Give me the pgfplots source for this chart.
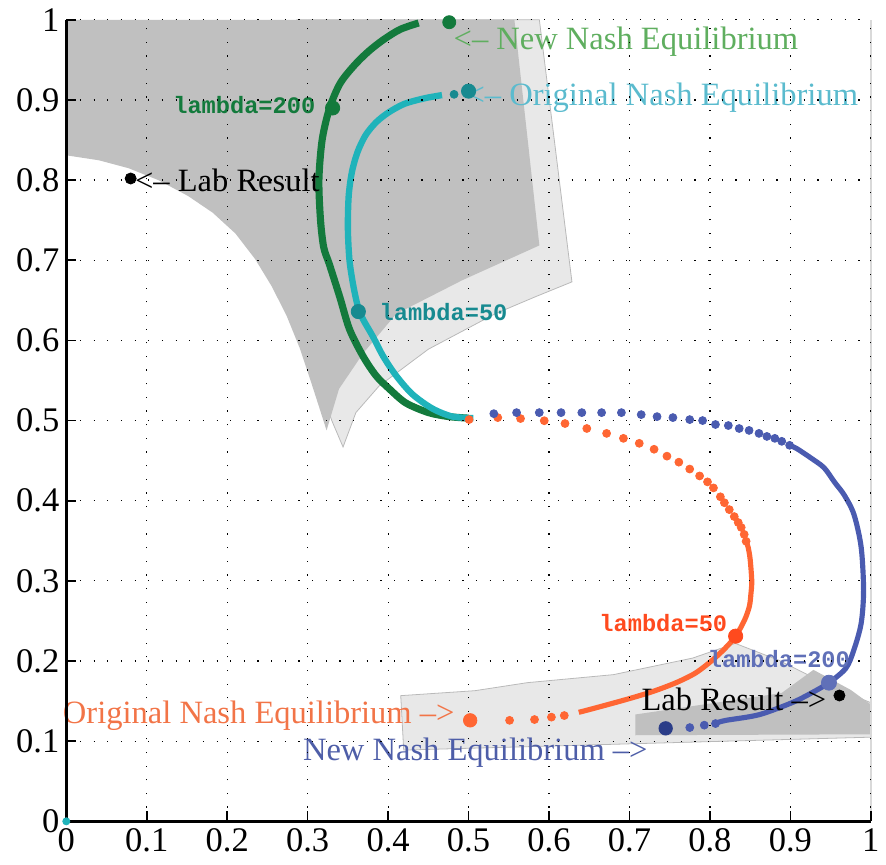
\documentclass[border=0pt]{standalone}
\usepackage{fontspec}
\setmainfont{Liberation Serif}
\setmonofont{Liberation Mono}
\usepackage{pgfplots}
\pgfplotsset{compat=1.18}
\definecolor{dgreen}{HTML}{137A3C}
\definecolor{tgreen}{HTML}{5FAE5F}
\definecolor{teal1}{HTML}{1FB3BA}
\definecolor{teal2}{HTML}{178A90}
\definecolor{tteal}{HTML}{5BBBCE}
\definecolor{orng}{HTML}{FF6633}
\definecolor{orngt}{HTML}{F27447}
\definecolor{redo}{HTML}{FF4A1E}
\definecolor{blu}{HTML}{4A5BB0}
\definecolor{bluD}{HTML}{2B3D88}
\definecolor{blut}{HTML}{4E5EA8}
\definecolor{bluL}{HTML}{6070B8}
\definecolor{darkreg}{HTML}{C0C0C0}
\definecolor{lightreg}{HTML}{E8E8E8}
\begin{document}
\begin{tikzpicture}
\begin{axis}[
  scale only axis, width=406.5bp, height=405bp,
  xmin=0, xmax=1, ymin=0, ymax=1,
  xtick={0,0.1,0.2,0.3,0.4,0.5,0.6,0.7,0.8,0.9,1},
  ytick={0,0.1,0.2,0.3,0.4,0.5,0.6,0.7,0.8,0.9,1},
  xticklabels={0,0.1,0.2,0.3,0.4,0.5,0.6,0.7,0.8,0.9,1},
  yticklabels={0,0.1,0.2,0.3,0.4,0.5,0.6,0.7,0.8,0.9,1},
  tick align=inside, tick pos=left, major tick length=5bp,
  tick style={black, line width=0.8bp},
  grid=major,
  major grid style={black, line width=0.6bp, dash pattern=on 0.6bp off 6.3bp},
  axis line style={draw=none},
  axis on top,
  clip=false,
  tick label style={font=\fontsize{17.5}{20}\selectfont},
]
% bounding box
\path (axis cs:-0.0824,-0.0543) rectangle (axis cs:1.0074,1.0247);
% regions top
\addplot[fill=lightreg, draw=gray!55, line width=0.4bp] coordinates {(0.2866,1.0)(0.588,1.0)(0.6285,0.673)(0.582,0.654)(0.5326,0.633)(0.450,0.589)(0.3887,0.543)(0.360,0.51)(0.344,0.467)(0.33,0.5)(0.311,0.556)} -- cycle;
\addplot[fill=darkreg, draw=none] coordinates {(0,1)(0.557,1)(0.588,0.7185)(0.492,0.675)(0.41,0.633)(0.369,0.584)(0.339,0.5395)(0.3235,0.4877)(0.3149,0.5148)(0.3038,0.5494)(0.2903,0.5901)(0.2743,0.6296)(0.2558,0.6667)(0.2349,0.7012)(0.2103,0.7333)(0.182,0.7593)(0.1513,0.7802)(0.1144,0.8)(0.0775,0.8148)(0.0406,0.8247)(0,0.8309)} -- cycle;
% regions bottom
\addplot[fill=lightreg, draw=gray!55, line width=0.4bp] coordinates {(0.4157,0.1568)(0.508,0.163)(0.573,0.173)(0.680,0.183)(0.7786,0.2037)(0.8315,0.222)(0.8856,0.201)(0.947,0.170)(1.0,0.148)(1.0,0.105)(0.4194,0.0889)} -- cycle;
\addplot[fill=darkreg, draw=none] coordinates {(0.7073,0.1333)(0.889,0.160)(0.9287,0.189)(0.975,0.164)(1.0,0.1457)(1.0,0.1086)(0.7073,0.1074)} -- cycle;
% green curve (new NE, top)
\addplot[dgreen, line width=3.6bp, smooth] coordinates {(0.50,0.503)(0.475,0.505)(0.45,0.51)(0.422,0.522)(0.401,0.54)(0.385,0.556)(0.369,0.58)(0.352,0.614)(0.34,0.654)(0.327,0.695)(0.32,0.716)(0.316,0.75)(0.314,0.8)(0.318,0.85)(0.327,0.889)(0.34,0.92)(0.357,0.942)(0.375,0.96)(0.394,0.975)(0.415,0.988)(0.438,0.996)};
% teal curve (original NE, top)
\addplot[teal1, line width=3.2bp, smooth] coordinates {(0.506,0.503)(0.48,0.505)(0.455,0.515)(0.43,0.533)(0.41,0.556)(0.394,0.58)(0.381,0.605)(0.369,0.626)(0.363,0.64)(0.357,0.667)(0.352,0.7)(0.350,0.74)(0.351,0.78)(0.355,0.81)(0.362,0.835)(0.372,0.856)(0.385,0.872)(0.4,0.884)(0.42,0.895)(0.445,0.902)(0.467,0.906)};
\addplot[teal2, only marks, mark=*, mark size=2bp] coordinates {(0.482,0.907)};
% orange curve (original NE, bottom)
\addplot[orng, only marks, mark=*, mark size=2bp] coordinates {(0.5006,0.5012)(0.5363,0.5037)(0.5646,0.5025)(0.5941,0.4998)(0.6199,0.4963)(0.6470,0.4901)(0.6716,0.4840)(0.6925,0.4778)(0.7122,0.4716)(0.7306,0.4642)(0.7466,0.4556)(0.7614,0.4481)(0.7749,0.4395)(0.7872,0.4309)(0.7970,0.4235)(0.8044,0.4160)(0.8130,0.4049)(0.8180,0.3975)(0.8241,0.3889)(0.8303,0.3802)(0.8352,0.3728)(0.8389,0.3667)(0.8426,0.3580)(0.8450,0.3494)(0.619,0.132)(0.603,0.130)(0.582,0.127)(0.551,0.126)};
\addplot[orng, line width=2.6bp, smooth] coordinates {(0.8450,0.3494)(0.8475,0.342)(0.85,0.327)(0.852,0.3)(0.851,0.284)(0.849,0.268)(0.843,0.251)(0.832,0.231)(0.819,0.216)(0.803,0.201)(0.782,0.185)(0.758,0.173)(0.729,0.162)(0.696,0.152)(0.656,0.141)(0.637,0.136)};
% blue curve (new NE, bottom)
\addplot[blu, only marks, mark=*, mark size=2bp] coordinates {(0.5314,0.5086)(0.5597,0.5099)(0.5879,0.5099)(0.6150,0.5099)(0.6408,0.5099)(0.6654,0.5099)(0.6900,0.5099)(0.7146,0.5074)(0.7343,0.5049)(0.7540,0.5037)(0.7749,0.5012)(0.7909,0.5000)(0.8069,0.4951)(0.8229,0.4938)(0.8364,0.4901)(0.8487,0.4877)(0.8610,0.4840)(0.8708,0.4802)(0.8807,0.4778)(0.8893,0.4741)(0.8991,0.4691)(0.807,0.122)(0.793,0.120)(0.775,0.117)};
\addplot[blu, line width=2.6bp, smooth] coordinates {(0.8991,0.4691)(0.908,0.465)(0.926,0.453)(0.942,0.441)(0.955,0.423)(0.967,0.407)(0.979,0.383)(0.988,0.342)(0.991,0.288)(0.988,0.247)(0.979,0.214)(0.969,0.191)(0.948,0.173)(0.926,0.16)(0.902,0.148)(0.861,0.133)(0.82,0.126)(0.809,0.123)};
% lambda markers
\addplot[dgreen, only marks, mark=*, mark size=3.6bp] coordinates {(0.331,0.890)};
\addplot[teal2, only marks, mark=*, mark size=3.6bp] coordinates {(0.363,0.636)};
\addplot[redo, only marks, mark=*, mark size=3.6bp] coordinates {(0.832,0.231)};
\addplot[bluL, only marks, mark=*, mark size=3.8bp] coordinates {(0.948,0.173)};
% equilibrium markers
\addplot[dgreen, only marks, mark=*, mark size=3.3bp] coordinates {(0.476,0.997)};
\addplot[teal2, only marks, mark=*, mark size=3.6bp] coordinates {(0.5,0.911)};
\addplot[orng, only marks, mark=*, mark size=3.4bp] coordinates {(0.502,0.126)};
\addplot[bluD, only marks, mark=*, mark size=3.4bp] coordinates {(0.745,0.116)};
% lab results
\addplot[black, only marks, mark=*, mark size=2.8bp] coordinates {(0.080,0.802)(0.961,0.157)};
\addplot[teal1, only marks, mark=*, mark size=1.8bp] coordinates {(0,0)};
% labels
\begin{scope}[every node/.style={font=\fontsize{16.5}{19}\selectfont, inner sep=0pt}]
\node[anchor=west, text=tgreen] at (axis cs:0.481,0.973) {<-- New Nash Equilibrium};
\node[anchor=west, text=tteal] at (axis cs:0.497,0.903) {<-- Original Nash Equilibrium};
\node[anchor=west, text=black] at (axis cs:0.085,0.800) {<-- Lab Result};
\node[anchor=east, text=orngt] at (axis cs:0.483,0.132) {Original Nash Equilibrium -->};
\node[anchor=east, text=blut] at (axis cs:0.723,0.086) {New Nash Equilibrium -->};
\node[anchor=east, text=black] at (axis cs:0.945,0.152) {Lab Result -->};
\end{scope}
\begin{scope}[every node/.style={font=\fontsize{12}{14}\ttfamily\bfseries, inner sep=0pt}]
\node[anchor=east, text=dgreen] at (axis cs:0.310,0.894) {lambda=200};
\node[anchor=west, text=teal2] at (axis cs:0.389,0.636) {lambda=50};
\node[anchor=east, text=redo] at (axis cs:0.822,0.247) {lambda=50};
\node[anchor=west, text=bluL] at (axis cs:0.797,0.203) {lambda=200};
\end{scope}
% axis lines
\draw[black, line width=1.3bp] (rel axis cs:0,1) -- (rel axis cs:0,0) -- (rel axis cs:1,0);
\draw[gray!30, line width=0.8bp] (rel axis cs:1,0) -- (rel axis cs:1,1);
\end{axis}
\end{tikzpicture}
\end{document}
